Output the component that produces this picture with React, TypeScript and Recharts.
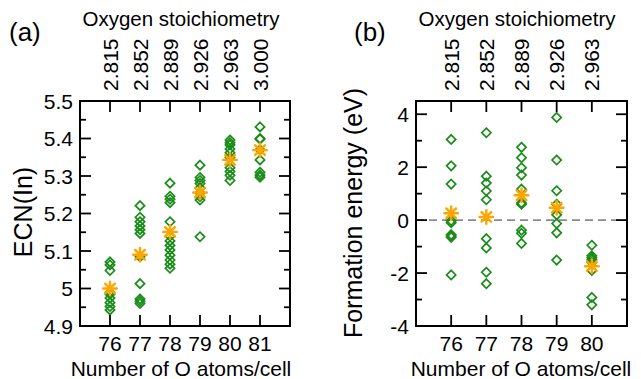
import React from 'react';
import { ScatterChart, Scatter, XAxis, YAxis, ReferenceLine } from 'recharts';

const FONT = '"Liberation Sans", Arial, Helvetica, sans-serif';
const GREEN = '#1a8c1a';
const ORANGE = '#ffa500';

// ---------- Panel (a): ECN(In) ----------
const ecnCategories = [76, 77, 78, 79, 80, 81];
const ecnStoich = ['2.815', '2.852', '2.889', '2.926', '2.963', '3.000'];
const ecn76 = [5.071, 5.063, 5.048, 4.99, 4.985, 4.975, 4.962, 4.952, 4.943];
const ecn77 = [5.221, 5.19, 5.178, 5.167, 5.157, 5.147, 5.085, 5.013, 4.972, 4.966, 4.96];
const ecn78 = [5.281, 5.246, 5.238, 5.229, 5.178, 5.14, 5.127, 5.115, 5.103, 5.089, 5.076, 5.065, 5.054];
const ecn79 = [5.329, 5.296, 5.288, 5.28, 5.268, 5.255, 5.245, 5.236, 5.138];
const ecn80 = [5.396, 5.389, 5.383, 5.372, 5.362, 5.35, 5.322, 5.312, 5.302, 5.288];
const ecn81 = [5.431, 5.4, 5.398, 5.37, 5.343, 5.31, 5.303, 5.297];
const ecnAverages = [5.0, 5.09, 5.151, 5.256, 5.343, 5.369];
const ecnTicks = [4.9, 4.95, 5.0, 5.05, 5.1, 5.15, 5.2, 5.25, 5.3, 5.35, 5.4, 5.45, 5.5];
const ecnTickLabels = ['4.9', '', '5', '', '5.1', '', '5.2', '', '5.3', '', '5.4', '', '5.5'];

// ---------- Panel (b): Formation energy ----------
const feCategories = [76, 77, 78, 79, 80];
const feStoich = ['2.815', '2.852', '2.889', '2.926', '2.963'];
const fe76 = [3.05, 2.05, 1.36, -0.02, -0.1, -0.55, -0.6, -0.65, -2.07];
const fe77 = [3.3, 1.66, 1.4, 1.1, 0.77, -0.7, -1.05, -1.97, -2.4];
const fe78 = [2.75, 2.36, 1.98, 1.7, 1.17, 0.65, 0.6, -0.38, -0.5, -0.88];
const fe79 = [3.88, 2.27, 1.11, 0.6, 0.2, -0.13, -0.48, -1.51];
const fe80 = [-0.95, -1.35, -1.42, -1.5, -1.6, -1.9, -2.92, -3.2];
const feAverages = [0.26, 0.12, 0.94, 0.47, -1.74];
const feTicks = [-4, -3, -2, -1, 0, 1, 2, 3, 4];
const feTickLabels = ['-4', '', '-2', '', '0', '', '2', '', '4'];

const ecnColumns = [ecn76, ecn77, ecn78, ecn79, ecn80, ecn81];
const feColumns = [fe76, fe77, fe78, fe79, fe80];

const toPoints = (cats: number[], cols: number[][]) =>
  cats.flatMap((c, i) => cols[i].map((v) => ({ x: c, y: v })));
const toAvg = (cats: number[], avgs: number[]) => cats.map((c, i) => ({ x: c, y: avgs[i] }));

const ecnPoints = toPoints(ecnCategories, ecnColumns);
const ecnAvgPoints = toAvg(ecnCategories, ecnAverages);
const fePoints = toPoints(feCategories, feColumns);
const feAvgPoints = toAvg(feCategories, feAverages);

const MAJOR = 11;
const MINOR = 6;
const TICK_W = 1.8;
const LABEL_SIZE = 21;

const Diamond = (props: any) => {
  const { cx, cy } = props;
  if (cx == null || cy == null) return null;
  const r = 4.6;
  return (
    <path
      d={`M${cx},${cy - r}L${cx + r},${cy}L${cx},${cy + r}L${cx - r},${cy}Z`}
      fill="none"
      stroke={GREEN}
      strokeWidth={1.7}
    />
  );
};

const Star = (props: any) => {
  const { cx, cy } = props;
  if (cx == null || cy == null) return null;
  const r = 6.8;
  const d = r * Math.SQRT1_2;
  return (
    <g stroke={ORANGE} strokeWidth={2.4} strokeLinecap="round">
      <line x1={cx - r} y1={cy} x2={cx + r} y2={cy} />
      <line x1={cx} y1={cy - r} x2={cx} y2={cy + r} />
      <line x1={cx - d} y1={cy - d} x2={cx + d} y2={cy + d} />
      <line x1={cx - d} y1={cy + d} x2={cx + d} y2={cy - d} />
    </g>
  );
};

const findIdx = (arr: number[], v: number) => arr.findIndex((t) => Math.abs(t - v) < 1e-6);

const makeBottomTick = () => (props: any) => {
  const { x, y, payload } = props;
  return (
    <g>
      <line x1={x} x2={x} y1={y} y2={y - MAJOR} stroke="#000" strokeWidth={TICK_W} />
      <text x={x} y={y + 25} textAnchor="middle" fontSize={LABEL_SIZE} fontFamily={FONT} fill="#000">
        {payload.value}
      </text>
    </g>
  );
};

const makeTopTick = (cats: number[], labels: string[]) => (props: any) => {
  const { x, y, payload } = props;
  const lab = labels[findIdx(cats, payload.value)] ?? '';
  const bx = x + 7.5;
  const by = y - 10;
  return (
    <g>
      <line x1={x} x2={x} y1={y} y2={y + MAJOR} stroke="#000" strokeWidth={TICK_W} />
      <text
        x={bx}
        y={by}
        transform={`rotate(-90 ${bx} ${by})`}
        textAnchor="start"
        fontSize={LABEL_SIZE}
        fontFamily={FONT}
        fill="#000"
      >
        {lab}
      </text>
    </g>
  );
};

const makeSideTick = (ticks: number[], labels: string[], side: 'left' | 'right') => (props: any) => {
  const { x, y, payload } = props;
  const lab = labels[findIdx(ticks, payload.value)] ?? '';
  const len = lab ? MAJOR : MINOR;
  const dir = side === 'left' ? 1 : -1;
  return (
    <g>
      <line x1={x} x2={x + dir * len} y1={y} y2={y} stroke="#000" strokeWidth={TICK_W} />
      {side === 'left' && lab ? (
        <text x={x - 7} y={y + 7.5} textAnchor="end" fontSize={LABEL_SIZE} fontFamily={FONT} fill="#000">
          {lab}
        </text>
      ) : null}
    </g>
  );
};

const axisLineStyle = { stroke: '#000', strokeWidth: 2, strokeLinecap: 'square' as const };

type PanelProps = {
  width: number;
  leftW: number;
  rightW: number;
  cats: number[];
  stoich: string[];
  xDomain: [number, number];
  yDomain: [number, number];
  yTicks: number[];
  yLabels: string[];
  points: { x: number; y: number }[];
  avg: { x: number; y: number }[];
  zeroLine?: boolean;
};

const Panel = (p: PanelProps) => (
  <ScatterChart width={p.width} height={379} margin={{ top: 0, right: 0, bottom: 0, left: 0 }}>
    <XAxis
      xAxisId="bottom"
      type="number"
      dataKey="x"
      orientation="bottom"
      domain={p.xDomain}
      ticks={p.cats}
      interval={0}
      height={53}
      tickSize={0}
      tickMargin={0}
      tickLine={false}
      axisLine={axisLineStyle}
      tick={makeBottomTick()}
      allowDataOverflow
    />
    <XAxis
      xAxisId="top"
      type="number"
      dataKey="x"
      orientation="top"
      domain={p.xDomain}
      ticks={p.cats}
      interval={0}
      height={101}
      tickSize={0}
      tickMargin={0}
      tickLine={false}
      axisLine={axisLineStyle}
      tick={makeTopTick(p.cats, p.stoich)}
      allowDataOverflow
    />
    <YAxis
      yAxisId="left"
      type="number"
      dataKey="y"
      orientation="left"
      domain={p.yDomain}
      ticks={p.yTicks}
      interval={0}
      width={p.leftW}
      tickSize={0}
      tickMargin={0}
      tickLine={false}
      axisLine={axisLineStyle}
      tick={makeSideTick(p.yTicks, p.yLabels, 'left')}
      allowDataOverflow
    />
    <YAxis
      yAxisId="right"
      type="number"
      dataKey="y"
      orientation="right"
      domain={p.yDomain}
      ticks={p.yTicks}
      interval={0}
      width={p.rightW}
      tickSize={0}
      tickMargin={0}
      tickLine={false}
      axisLine={axisLineStyle}
      tick={makeSideTick(p.yTicks, p.yLabels, 'right')}
      allowDataOverflow
    />
    {p.zeroLine ? (
      <ReferenceLine
        y={0}
        xAxisId="bottom"
        yAxisId="left"
        stroke="#8a8a8a"
        strokeWidth={1.6}
        strokeDasharray="8 5"
      />
    ) : null}
    <Scatter
      data={p.points}
      xAxisId="bottom"
      yAxisId="left"
      dataKey="y"
      shape={Diamond}
      isAnimationActive={false}
    />
    <Scatter
      data={p.avg}
      xAxisId="bottom"
      yAxisId="left"
      dataKey="y"
      shape={Star}
      isAnimationActive={false}
    />
  </ScatterChart>
);

const txt = { fontFamily: FONT, fill: '#000' };

export default function App() {
  return (
    <div
      style={{
        position: 'absolute',
        left: 0,
        top: 0,
        width: 641,
        height: 379,
        background: '#fff',
        overflow: 'hidden',
      }}
    >
      <div style={{ position: 'absolute', left: 0, top: 0 }}>
        <Panel
          width={320}
          leftW={80}
          rightW={30}
          cats={ecnCategories}
          stoich={ecnStoich}
          xDomain={[75, 82]}
          yDomain={[4.9, 5.5]}
          yTicks={ecnTicks}
          yLabels={ecnTickLabels}
          points={ecnPoints}
          avg={ecnAvgPoints}
        />
      </div>
      <div style={{ position: 'absolute', left: 320, top: 0 }}>
        <Panel
          width={321}
          leftW={96}
          rightW={14}
          cats={feCategories}
          stoich={feStoich}
          xDomain={[75, 81]}
          yDomain={[-4, 4.5]}
          yTicks={feTicks}
          yLabels={feTickLabels}
          points={fePoints}
          avg={feAvgPoints}
          zeroLine
        />
      </div>
      <svg
        width={641}
        height={379}
        style={{ position: 'absolute', left: 0, top: 0, pointerEvents: 'none' }}
      >
        <text x={9} y={41} fontSize={26} {...txt}>(a)</text>
        <text x={354} y={41} fontSize={26} {...txt}>(b)</text>
        <text x={181} y={26} fontSize={20.5} textAnchor="middle" {...txt}>Oxygen stoichiometry</text>
        <text x={517} y={26} fontSize={20.5} textAnchor="middle" {...txt}>Oxygen stoichiometry</text>
        <text x={181} y={376} fontSize={21} textAnchor="middle" {...txt}>Number of O atoms/cell</text>
        <text x={521} y={376} fontSize={21} textAnchor="middle" {...txt}>Number of O atoms/cell</text>
        <text x={32} y={212} fontSize={25} textAnchor="middle" transform="rotate(-90 32 212)" {...txt}>ECN(In)</text>
        <text x={362} y={213} fontSize={25} textAnchor="middle" transform="rotate(-90 362 213)" {...txt}>Formation energy (eV)</text>
      </svg>
    </div>
  );
}
